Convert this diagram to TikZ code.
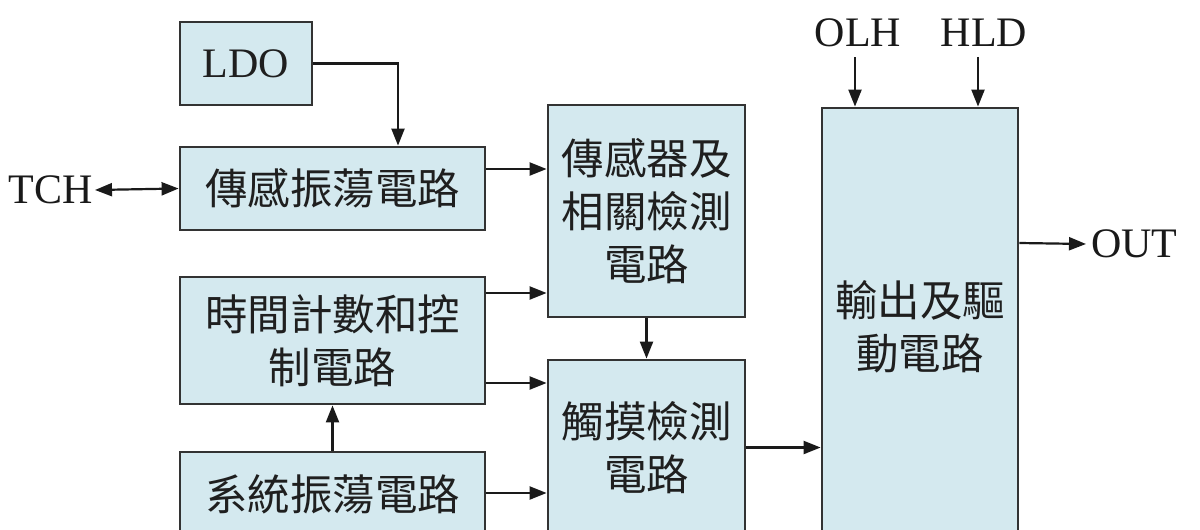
\documentclass[tikz,border=0pt]{standalone}
\usepackage{fontspec}
\setmainfont{Liberation Serif}
\newfontfamily\cjk{Noto Sans CJK TC}
\usetikzlibrary{arrows.meta,calc}
\definecolor{boxfill}{HTML}{D4E9EF}
\definecolor{boxline}{HTML}{333333}
\definecolor{arrline}{HTML}{1A1A1A}
\tikzset{
  blk/.style={draw=boxline, line width=2.8pt, fill=boxfill, inner sep=0pt, align=center,
    font=\fontsize{42.5}{53}\selectfont\cjk, text=black!88},
  arr/.style={draw=arrline, line width=2.2pt, -{Triangle[length=17pt,width=13pt]}},
  darr/.style={draw=arrline, line width=2.2pt, {Triangle[length=17pt,width=13pt]}-{Triangle[length=17pt,width=13pt]}},
  lbl/.style={inner sep=0pt, font=\fontsize{42}{50}\selectfont, text=black!90},
}
\begin{document}
\begin{tikzpicture}[x=1pt,y=-1pt]
\useasboundingbox (0,0) rectangle (1200,530);
\clip (0,0) rectangle (1200,530);
\fill[white] (0,0) rectangle (1200,530);
% boxes
\node[blk, minimum width=132pt, minimum height=83pt, font=\fontsize{42}{50}\selectfont] (LDO) at (246,63.5) {LDO};
\node[blk, minimum width=305pt, minimum height=83pt] (S1) at (332.5,188.5) {傳感振蕩電路};
\node[blk, minimum width=305pt, minimum height=127pt] (T) at (332.5,340.5) {時間計數和控\\制電路};
\node[blk, minimum width=305pt, minimum height=88pt, text depth=0pt] (SYS) at (332.5,496) {\raisebox{6pt}{系統振蕩電路}};
\node[blk, minimum width=197pt, minimum height=212pt] (SD) at (646.5,211) {傳感器及\\相關檢測\\電路};
\node[blk, minimum width=197pt, minimum height=175pt] (TD) at (646.5,447.5) {觸摸檢測\\電路};
\node[blk, minimum width=196pt, minimum height=437pt] (OB) at (920,326.5) {輸出及驅\\動電路};
% labels
\node[lbl, anchor=east] (TCH) at (93,190) {TCH};
\node[lbl, anchor=west] (OUT) at (1091,244) {OUT};
\node[lbl] (OLH) at (858,33) {OLH};
\node[lbl] (HLD) at (984,33) {HLD};
% connectors
\draw[arr] (LDO.east) -| ([xshift=65.5pt]S1.north);
\draw[darr] ([xshift=2pt]TCH.east) -- (S1.west);
\draw[arr] ([yshift=19.5pt]S1.east) -- ([yshift=19.5pt]S1.east -| SD.west);
\draw[arr] ([yshift=47.5pt]T.east) -- ([yshift=47.5pt]T.east -| SD.west);
\draw[arr] ([yshift=-42.5pt]T.east) -- ([yshift=-42.5pt]T.east -| TD.west);
\draw[arr] (SYS.north) -- (T.south);
\draw[arr] ([yshift=3pt]SYS.east) -- ([yshift=3pt]SYS.east -| TD.west);
\draw[arr] (SD.south) -- (TD.north);
\draw[arr] (TD.east) -- (TD.east -| OB.west);
\draw[arr] ([yshift=83.5pt]OB.east) -- ([xshift=-5pt]OUT.west);
\draw[arr] ([xshift=-3pt,yshift=-10pt]OLH.south) -- ([xshift=-3pt]OLH.south |- OB.north);
\draw[arr] ([xshift=-6pt,yshift=-10pt]HLD.south) -- ([xshift=-6pt]HLD.south |- OB.north);
\end{tikzpicture}
\end{document}
